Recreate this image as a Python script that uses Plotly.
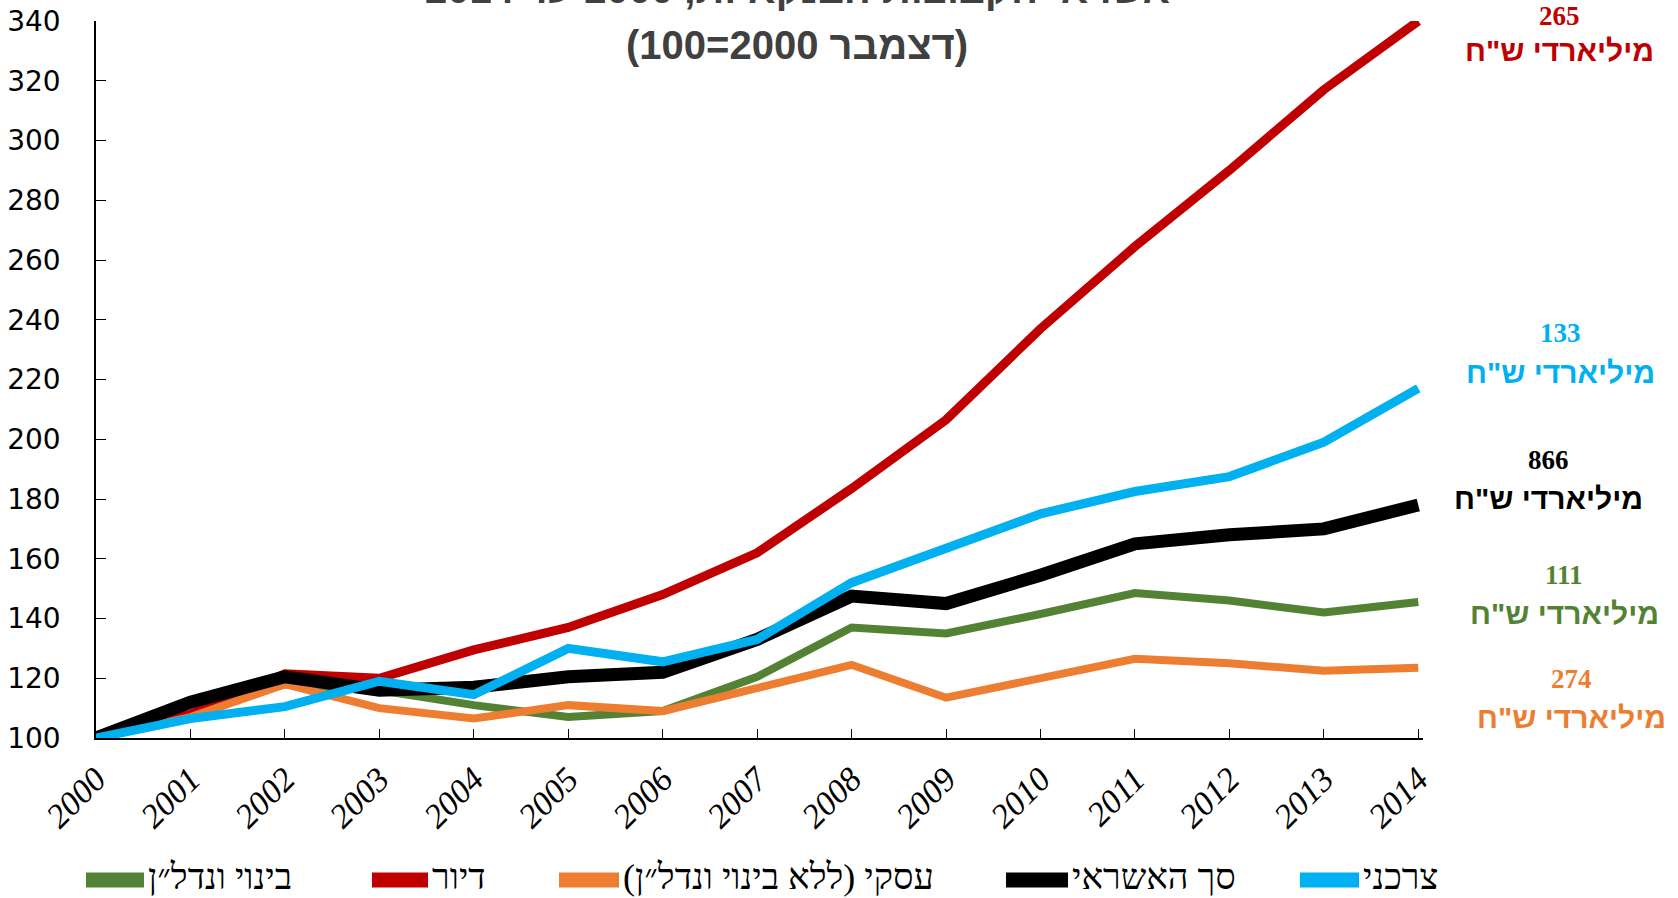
import plotly.graph_objects as go

# Credit indices by sector, December 2000 = 100
years = list(range(2000, 2015))

construction = [100, 108, 118, 116, 111, 107, 109, 120.5, 137, 135, 141.5, 148.5, 146, 142, 145.5]
housing = [100, 108, 121.5, 120, 129.5, 137, 148, 162, 183.5, 206.5, 237, 264.5, 290, 317, 340]
business = [100, 107, 118, 110, 106.5, 111, 109, 116.5, 124.5, 113.5, 120, 126.5, 125, 122.5, 123.5]
total = [100, 112, 120.5, 116, 117, 120.5, 122, 133, 147.5, 145, 154.5, 165, 168, 170, 178]
consumer = [100, 106.5, 110.5, 119, 114.5, 130, 125.5, 133, 152, 163.5, 175, 182.5, 187.5, 199, 217]

series_names = ["בינוי ונדל״ן", "דיור", "עסקי (ללא בינוי ונדל״ן)", "סך האשראי", "צרכני"]
series_values = [construction, housing, business, total, consumer]
series_colors = ["#548235", "#C00000", "#ED7D31", "#000000", "#00B0F0"]
series_widths = [8, 9, 8, 13, 9]

# Outstanding balance at the end of 2014, billion NIS
end_balances = ["111", "265", "274", "866", "133"]

y_ticks = list(range(100, 341, 20))

W, H = 1678, 898
L, R, T, B = 96, 255, 21, 160
PW, PH = W - L - R, H - T - B


def px(x):
    return (x - L) / PW


def py(y):
    return (H - B - y) / PH


def rtl(s):
    return "\u202B" + s + "\u202C"


fig = go.Figure()

for name, vals, col, w in zip(series_names, series_values, series_colors, series_widths):
    fig.add_trace(go.Scatter(
        x=years, y=vals, mode="lines", name=name,
        line=dict(color=col, width=w),
        cliponaxis=False, showlegend=False,
    ))

# Balance labels at the right end of each series
label_pos = {  # series index: (x centre px, number y px, unit y px)
    1: (1559, 16, 50),
    4: (1561, 333, 372),
    3: (1548, 460, 498),
    0: (1564, 575, 613),
    2: (1571, 679, 717),
}
for i, (cx, ny, ty) in label_pos.items():
    fig.add_annotation(
        x=px(cx), y=py(ny), xref="paper", yref="paper", showarrow=False,
        text="<b>" + end_balances[i] + "</b>",
        font=dict(family="Liberation Serif", size=27, color=series_colors[i]),
        xanchor="center", yanchor="middle", borderpad=0,
    )
    fig.add_annotation(
        x=px(cx), y=py(ty), xref="paper", yref="paper", showarrow=False,
        text="<b>" + rtl('מיליארדי ש"ח') + "</b>",
        font=dict(family="Liberation Sans", size=30, color=series_colors[i]),
        xanchor="center", yanchor="middle", borderpad=0,
    )

# Title
fig.add_annotation(
    x=px(797), y=py(-11), xref="paper", yref="paper", showarrow=False,
    text="<b>" + rtl("אשראי הקבוצות הבנקאיות, 2000 עד 2014") + "</b>",
    font=dict(family="Liberation Sans", size=40, color="#404040"),
    xanchor="center", yanchor="middle",
)
fig.add_annotation(
    x=px(797), y=py(45), xref="paper", yref="paper", showarrow=False,
    text="<b>" + rtl("(דצמבר 2000=100)") + "</b>",
    font=dict(family="Liberation Sans", size=40, color="#404040"),
    xanchor="center", yanchor="middle",
)

# Legend row along the bottom
legend_pos = [(86, 144), (372, 428), (559, 619), (1006, 1068), (1300, 1359)]
for (x0, x1), name, col in zip(legend_pos, series_names, series_colors):
    fig.add_shape(
        type="line", xref="paper", yref="paper",
        x0=px(x0), x1=px(x1), y0=py(880), y1=py(880),
        line=dict(color=col, width=15),
    )
    fig.add_annotation(
        x=px(x1 + 2), y=py(877), xref="paper", yref="paper", showarrow=False,
        text=rtl(name), xanchor="left", yanchor="middle",
        font=dict(family="Liberation Serif", size=36, color="#000000"),
    )

fig.update_layout(
    width=W, height=H,
    margin=dict(l=L, r=R, t=T, b=B, pad=0),
    paper_bgcolor="white", plot_bgcolor="white",
    showlegend=False,
    xaxis=dict(
        range=[2000, 2014.05], tickvals=years, ticktext=[str(y) for y in years],
        tickangle=-45, ticks="inside", ticklen=9, tickcolor="#000000", tickwidth=1.2,
        showline=True, linecolor="#000000", linewidth=1.5,
        showgrid=False, zeroline=False, automargin=False,
        tickfont=dict(family="Liberation Serif", size=34, color="#000000", style="italic"),
        ticklabelstandoff=6,
    ),
    yaxis=dict(
        range=[100, 340], tickvals=y_ticks,
        ticks="inside", ticklen=10, tickcolor="#000000", tickwidth=1.2,
        showline=True, linecolor="#000000", linewidth=1.5,
        showgrid=False, zeroline=False, automargin=False,
        tickfont=dict(family="DejaVu Sans", size=28, color="#000000"),
        ticklabelstandoff=28,
    ),
)

fig.write_html("out.html")
